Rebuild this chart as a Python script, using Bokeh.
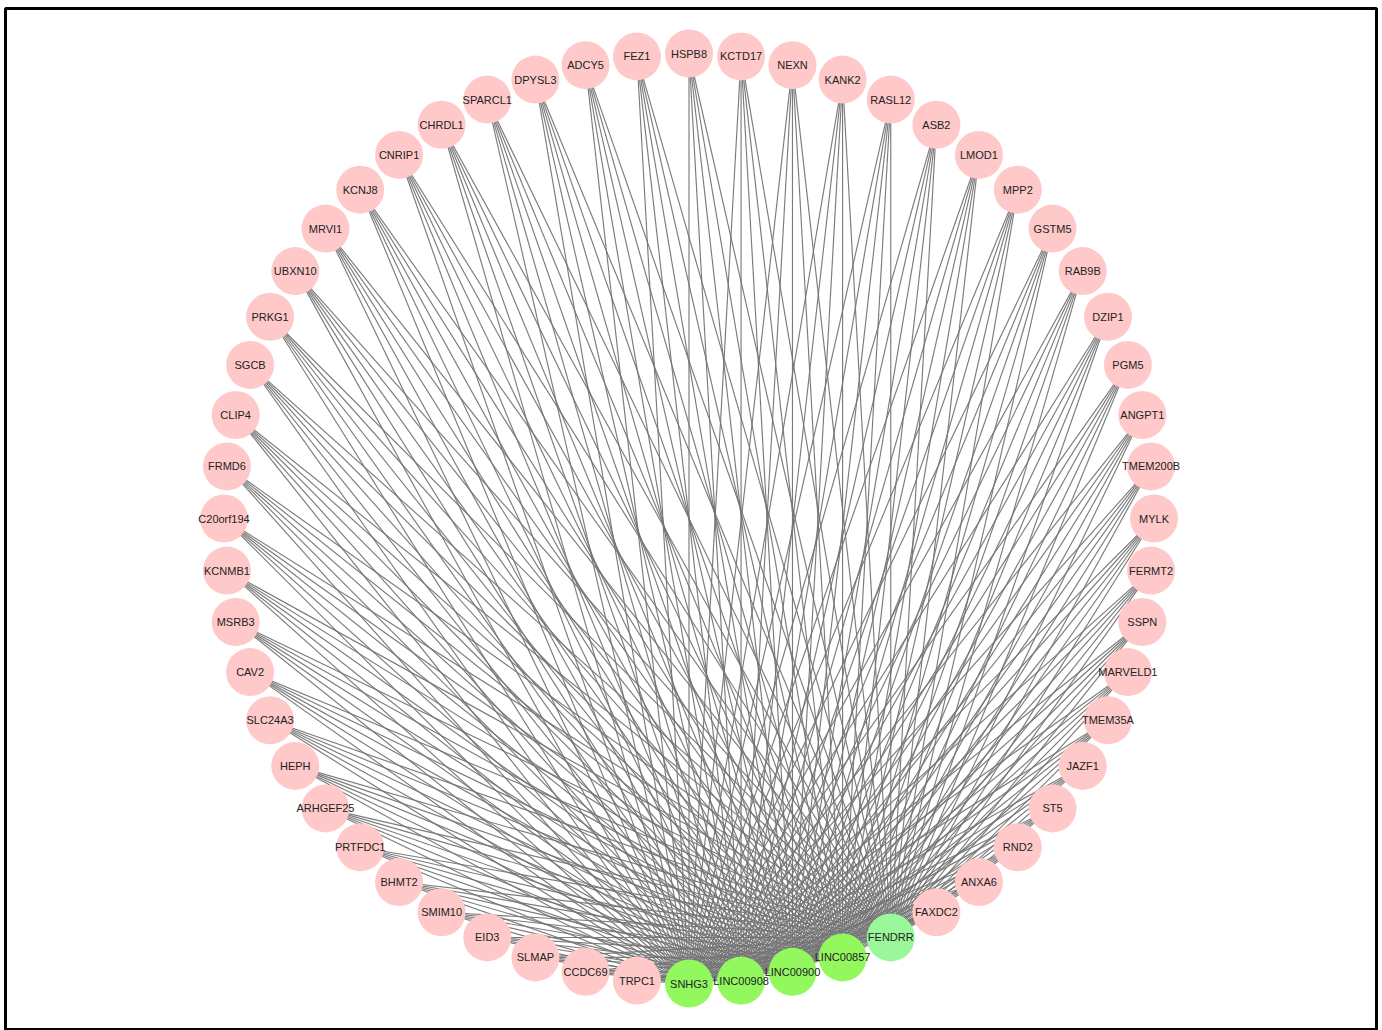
import numpy as np
from bokeh.plotting import figure
from bokeh.models import ColumnDataSource, Range1d
from bokeh.core.properties import value
from bokeh.embed import file_html
from bokeh.resources import INLINE

# Hub lncRNA nodes (green) and target mRNA nodes (pink), in circular order
# starting at the bottom and going counter-clockwise (rightwards along the bottom).
hubs = ["SNHG3", "LINC00908", "LINC00900", "LINC00857", "FENDRR"]
targets = ["FAXDC2", "ANXA6", "RND2", "ST5", "JAZF1", "TMEM35A", "MARVELD1", "SSPN",
           "FERMT2", "MYLK", "TMEM200B", "ANGPT1", "PGM5", "DZIP1", "RAB9B", "GSTM5",
           "MPP2", "LMOD1", "ASB2", "RASL12", "KANK2", "NEXN", "KCTD17", "HSPB8", "FEZ1",
           "ADCY5", "DPYSL3", "SPARCL1", "CHRDL1", "CNRIP1", "KCNJ8", "MRVI1", "UBXN10",
           "PRKG1", "SGCB", "CLIP4", "FRMD6", "C20orf194", "KCNMB1", "MSRB3", "CAV2",
           "SLC24A3", "HEPH", "ARHGEF25", "PRTFDC1", "BHMT2", "SMIM10", "EID3", "SLMAP",
           "CCDC69", "TRPC1"]
hub_colors = ["#93F75E", "#93F75E", "#93F75E", "#93F75E", "#9AF79A"]
target_color = "#FFC9C9"

W, H = 1382, 1030
CX, CY, R = 688.5, 518.0, 465.0

nodes = hubs + targets
n = len(nodes)
ang = np.deg2rad(90.0 - np.arange(n) * 360.0 / n)  # y axis is inverted (screen-like)
xs = CX + R * np.cos(ang)
ys = CY + R * np.sin(ang)
pos = {name: (xs[i], ys[i]) for i, name in enumerate(nodes)}

p = figure(width=W, height=H, output_backend="svg", toolbar_location=None,
           x_range=Range1d(5, 1376), y_range=Range1d(1030, 8),
           min_border_left=5, min_border_top=8, min_border_right=6, min_border_bottom=0)
p.axis.visible = False
p.grid.visible = False
p.outline_line_color = "black"
p.outline_line_width = 3
p.background_fill_color = "white"
p.border_fill_color = "white"

ex, ey = [], []
for t in targets:
    for h in hubs:
        ex.append([pos[t][0], pos[h][0]])
        ey.append([pos[t][1], pos[h][1]])
p.multi_line(ex, ey, line_color="#747474", line_width=1.15, line_alpha=0.95)

colors = hub_colors + [target_color] * len(targets)
src = ColumnDataSource(dict(x=xs, y=ys, name=nodes, color=colors))
p.scatter("x", "y", source=src, size=48, fill_color="color", line_color=None)
p.text("x", "y", text="name", source=src, text_align="center", text_baseline="middle",
       text_font=value("Liberation Sans"), text_font_size="11px", text_color="#222222")

open("out.html", "w").write(file_html(p, INLINE))
